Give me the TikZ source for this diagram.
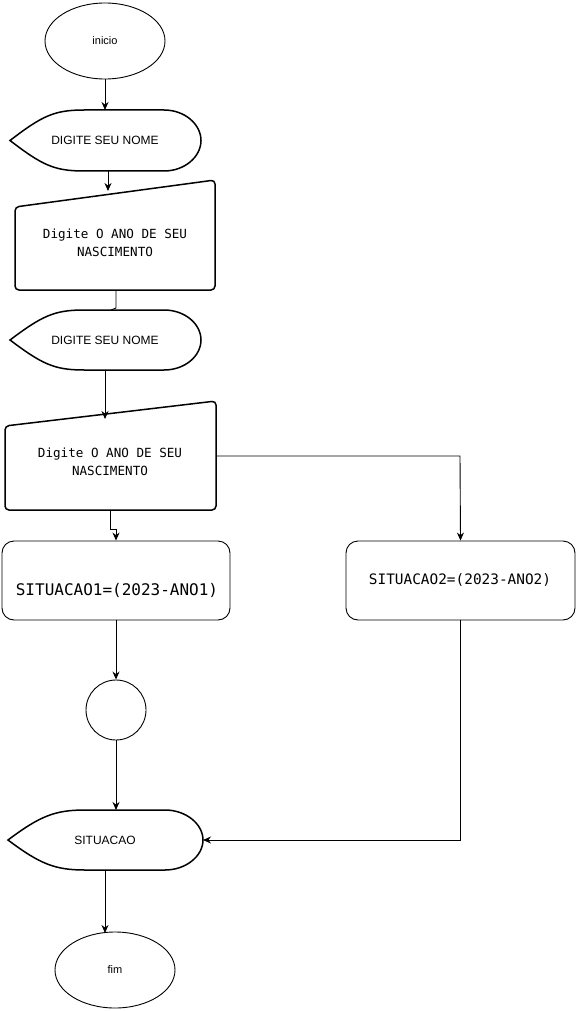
\documentclass[tikz,border=0pt]{standalone}
\usepackage{fontspec}
\setmainfont{Liberation Sans}
\newfontfamily\codefont{DejaVu Sans Mono}
\usetikzlibrary{arrows.meta,shapes.geometric}

% display symbol: pointed left end, flat top/bottom, rounded right end
% #1 left tip x, #2 start of flat part, #3 end of flat part, #4 right x, #5 top y, #6 bottom y
\newcommand{\displaysym}[6]{%
  \pgfmathsetmacro{\ym}{(#5+#6)/2}%
  \draw[shapeline] (#1,\ym) .. controls (#1+32,#5+6) and (#2-30,#5) .. (#2,#5)
    -- (#3,#5) .. controls (#3+21,#5) and (#4,\ym-16) .. (#4,\ym)
    .. controls (#4,\ym+16) and (#3+21,#6) .. (#3,#6)
    -- (#2,#6) .. controls (#2-30,#6) and (#1+32,#6-6) .. (#1,\ym) -- cycle;}

\tikzset{
  shapeline/.style={draw=black, line width=1.5pt, fill=white},
  flow/.style={draw=black, line width=0.9pt, -{Stealth[length=8pt,width=7pt]}},
  plain/.style={draw=black, line width=0.9pt},
  lbl/.style={font=\fontsize{12}{14}\selectfont, inner sep=0pt},
  code/.style={font=\codefont\fontsize{12.6}{18}\selectfont, align=center, inner sep=0pt},
  term/.style={ellipse, draw=black, line width=0.9pt, minimum width=120pt, minimum height=76pt, font=\fontsize{11}{13}\selectfont},
  procbox/.style={draw=black, line width=0.9pt, rounded corners=12pt, minimum width=228pt, minimum height=79pt, inner sep=0pt},
}

\begin{document}
\begin{tikzpicture}[x=1pt,y=-1pt]
\useasboundingbox[fill=white] (0,0) rectangle (576,1011);

% start / end terminals
\node[term] (inicio) at (105,41) {inicio};
\node[term] (fim) at (115,970) {fim};

% display symbols
\displaysym{10}{84}{164}{201}{110}{171}
\node[lbl] (d1) at (105,140) {DIGITE SEU NOME};
\coordinate (d1t) at (105,110);
\coordinate (d1b) at (108,171);

\displaysym{10}{84}{164}{201}{310}{370}
\node[lbl] (d2) at (105,340) {DIGITE SEU NOME};
\coordinate (d2t) at (111,310);
\coordinate (d2b) at (105,370);

\displaysym{8}{85}{165}{203}{810}{870}
\node[lbl] (d3) at (105,840) {SITUACAO};
\coordinate (d3t) at (116,810);
\coordinate (d3r) at (203,840);
\coordinate (d3b) at (105,870);

% manual input symbols
\draw[shapeline, rounded corners=4pt] (15,207) -- (215,180) -- (215,290) -- (15,290) -- cycle;
\node[code] (m1) at (115,243) {Digite O ANO DE SEU\\NASCIMENTO};
\coordinate (m1t) at (108,191);
\coordinate (m1b) at (116,290);

\draw[shapeline, rounded corners=4pt] (5,426) -- (216,401) -- (216,510) -- (5,510) -- cycle;
\node[code] (m2) at (110,462) {Digite O ANO DE SEU\\NASCIMENTO};
\coordinate (m2t) at (105,419);
\coordinate (m2r) at (216,456);
\coordinate (m2b) at (110,510);

% processing boxes
\node[procbox] (s1) at (116,580.5) {};
\node[code, font=\codefont\fontsize{16}{20}\selectfont] (s1t) at (117,590) {SITUACAO1=(2023-ANO1)};
\node[procbox, minimum width=229pt] (s2) at (460.5,580.5) {};
\node[code, font=\codefont\fontsize{14.4}{18}\selectfont] (s2t) at (460,580) {SITUACAO2=(2023-ANO2)};

% connector circle
\node[circle, draw=black, line width=0.9pt, minimum size=60pt, inner sep=0pt] (c) at (116,710) {};

% connectors
\draw[flow] (inicio.south) -- (d1t);
\draw[flow] (d1b) -- (m1t);
\draw[plain] (m1b) -- ++(0,18) -- (d2t);
\draw[flow] (d2b) -- (m2t);
\draw[flow] (m2r) -- (460,456) -- (s2.north);
\draw[flow] (m2b) -- (110,529) -- (116,529) -- (s1.north);
\draw[flow] (s1.south) -- (c.north);
\draw[flow] (c.south) -- (d3t);
\draw[flow] (s2.south) |- (d3r);
\draw[flow] (d3b) -- (105,933);
\end{tikzpicture}
\end{document}
